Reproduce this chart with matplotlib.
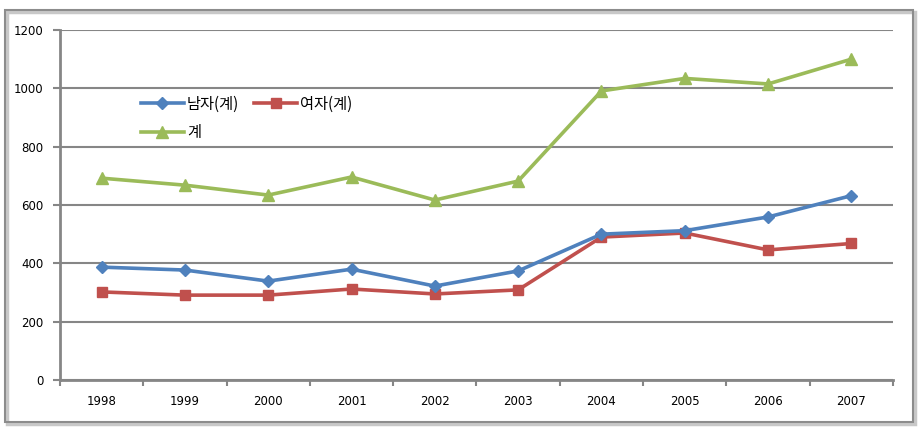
import matplotlib.pyplot as plt
from matplotlib.patches import Rectangle
import numpy as np

plt.rcParams['font.family'] = ['Noto Sans CJK KR', 'DejaVu Sans']

years = ['1998', '1999', '2000', '2001', '2002', '2003', '2004', '2005', '2006', '2007']
male = [387, 377, 339, 380, 322, 374, 500, 512, 559, 632]
female = [302, 291, 291, 312, 295, 309, 490, 504, 446, 468]
total = [692, 668, 634, 696, 617, 682, 991, 1034, 1015, 1100]

GRID = '#868686'

fig = plt.figure(figsize=(9.2, 4.33), dpi=100)
# outer chart frame with light shadow
fig.patches.append(Rectangle((7 / 920, 9 / 433), 908 / 920, 412 / 433, transform=fig.transFigure,
                             facecolor='none', edgecolor='#c8c8c8', lw=2.5, zorder=0))
fig.patches.append(Rectangle((5 / 920, 11 / 433), 908 / 920, 412 / 433, transform=fig.transFigure,
                             facecolor='none', edgecolor='#8c8c8c', lw=1.5, zorder=1))

ax = fig.add_axes([60 / 920, 53 / 433, 833 / 920, 350 / 433])
x = np.arange(len(years))

l1, = ax.plot(x, male, color='#4F81BD', lw=2.6, marker='D', ms=6.5, label='남자(계)', zorder=4)
l2, = ax.plot(x, female, color='#C0504D', lw=2.6, marker='s', ms=7.5, label='여자(계)', zorder=3)
l3, = ax.plot(x, total, color='#9BBB59', lw=2.6, marker='^', ms=9, label='계', zorder=2)

ax.set_xlim(-0.5, len(years) - 0.5)
ax.set_ylim(0, 1200)
ax.set_yticks(range(0, 1201, 200))
ax.set_xticks(x)
ax.set_xticklabels(years)
ax.set_xticks(np.arange(-0.5, len(years), 1), minor=True)
ax.tick_params(axis='x', which='major', length=0, pad=11, labelsize=8.5)
ax.tick_params(axis='x', which='minor', length=4, width=1.5, color=GRID, direction='out')
ax.tick_params(axis='y', length=5, width=1.5, color=GRID, labelsize=8.5, pad=7)
for lab in ax.get_xticklabels() + ax.get_yticklabels():
    lab.set_family('DejaVu Sans')

ax.yaxis.grid(True, color=GRID, lw=1.5)
ax.set_axisbelow(True)
for s in ['top', 'right']:
    ax.spines[s].set_visible(False)
for s in ['left', 'bottom']:
    ax.spines[s].set_color(GRID)
    ax.spines[s].set_linewidth(2)

# row-wise order: 남자, 여자 on the first row, 계 below
ax.legend([l1, l3, l2], ['남자(계)', '계', '여자(계)'], loc='upper left',
          bbox_to_anchor=(0.09, 0.83), ncol=2, frameon=False,
          fontsize=11, handlelength=2.8, columnspacing=1.0, labelspacing=0.75,
          handletextpad=0.2, borderaxespad=0)

fig.savefig('out.png', dpi=100)
